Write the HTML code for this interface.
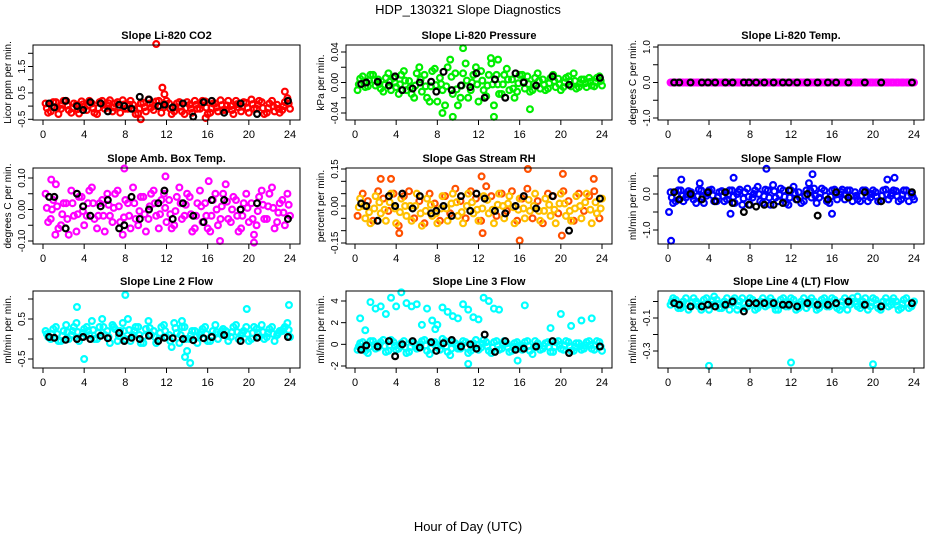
<!DOCTYPE html>
<html><head><meta charset="utf-8"><style>
html,body{margin:0;padding:0;background:#fff;}
svg{display:block;font-family:"Liberation Sans",sans-serif;}
</style></head><body>
<svg id="chart" width="936" height="540" viewBox="0 0 936 540">
<text x="468" y="14" text-anchor="middle" font-size="13">HDP_130321  Slope Diagnostics</text>
<text x="468" y="531" text-anchor="middle" font-size="13">Hour of Day (UTC)</text>
</svg>
<script>
const hoursA=[0.25,0.75,1.25,1.75,2.25,2.75,3.25,3.75,4.25,4.75,5.25,5.75,6.25,6.75,7.25,7.75,8.25,8.75,9.25,9.75,10.25,10.75,11.25,11.75,12.25,12.75,13.25,13.75,14.25,14.75,15.25,15.75,16.25,16.75,17.25,17.75,18.25,18.75,19.25,19.75,20.25,20.75,21.25,21.75,22.25,22.75,23.25,23.75];
const hoursB=[0.6,1.1,2.2,3.3,3.9,4.6,5.6,6.3,7.4,7.9,8.6,9.4,10.3,11.2,11.8,12.6,13.6,14.6,15.6,16.4,17.6,19.2,20.8,23.8];

const co2A=[0.1,-0.2,0.15,-0.1,0.2,-0.25,0.05,0.18,-0.15,0.1,-0.3,0.2,0.0,-0.2,0.15,0.22,-0.1,0.05,-0.28,0.12,0.25,-0.15,0.2,-0.05,0.1,-0.2,0.15,-0.3,0.05,0.2,-0.1,0.18,-0.25,0.1,0.22,-0.15,0.0,0.2,-0.2,0.12,0.25,-0.1,0.15,-0.25,0.2,0.05,-0.15,0.3];
const co2B=[-0.25,0.15,-0.3,0.2,-0.15,0.1,-0.28,-0.05,0.2,-0.25,0.15,-0.1,0.22,0.1,-0.25,-0.1,0.2,-0.3,0.1,-0.2,-0.05,0.18,-0.25,0.2,-0.3,0.1,-0.2,0.15,-0.25,-0.1,0.2,-0.3,0.1,-0.2,-0.15,0.2,-0.3,-0.05,0.15,-0.25,-0.1,0.2,-0.3,0.1,-0.2,-0.25,0.15,-0.1];
const co2K=[0.1,-0.05,0.2,0.0,-0.15,0.15,0.1,-0.2,0.05,0.0,-0.1,0.35,0.25,0.0,0.05,-0.05,0.1,-0.4,0.15,0.2,-0.25,0.1,-0.3,0.2];
const co2OX=[11,11.6,11.8,15.8,23.5,9.5];
const co2OY=[2.35,0.7,0.45,-0.45,0.55,-0.5];

const presA=[-0.01,0.008,-0.005,0.01,0.004,-0.012,0.012,0.006,-0.015,0.015,0.002,-0.02,0.02,0.01,-0.025,0.018,0.006,-0.03,0.03,0.012,-0.02,0.025,-0.01,0.02,0.015,-0.018,0.025,0.01,-0.015,0.018,0.004,-0.012,0.01,0.008,-0.01,0.012,0.004,-0.008,0.01,0.005,-0.006,0.008,0.012,-0.006,0.004,0.006,-0.005,0.008];
const presB=[0.005,-0.006,0.01,-0.004,-0.008,0.006,-0.01,-0.006,0.01,-0.01,-0.015,0.012,-0.012,-0.02,0.015,-0.025,-0.01,0.02,-0.015,-0.03,0.012,-0.02,0.01,-0.025,-0.01,0.01,-0.03,-0.015,0.01,-0.01,-0.02,0.01,-0.008,-0.012,0.006,-0.008,-0.01,0.006,-0.006,-0.01,0.006,-0.005,-0.008,0.004,-0.006,-0.004,0.006,-0.004];
const presK=[-0.002,0.0,0.001,-0.004,0.008,-0.01,-0.008,0.0,0.001,-0.012,0.014,-0.01,-0.004,-0.006,0.012,-0.02,0.004,-0.02,0.012,0.0,-0.004,0.008,-0.003,0.006];
const presOX=[10.5,9.5,13.2,13.5,8.5,13.9,17];
const presOY=[0.045,-0.045,0.032,-0.045,-0.04,0.03,-0.035];

const tempA=[0,0,0,0,0,0,0,0,0,0,0,0,0,0,0,0,0,0,0,0,0,0,0,0,0,0,0,0,0,0,0,0,0,0,0,0,0,0,0,0,0,0,0,0,0,0,0,0];
const tempK=[0,0,0,0,0,0,0,0,0,0,0,0,0,0,0,0,0,0,0,0,0,0,0,0,0,0,0,0];

const ambA=[0.05,-0.03,0.08,-0.05,0.02,0.06,-0.07,0.04,-0.02,0.07,-0.06,0.03,0.05,-0.04,0.06,-0.08,0.02,0.07,-0.05,0.04,-0.03,0.06,-0.06,0.05,0.03,-0.05,0.07,-0.02,0.04,-0.06,0.06,0.02,-0.07,0.05,-0.03,0.08,-0.04,0.03,-0.06,0.05,0.02,-0.05,0.06,-0.03,0.07,-0.04,0.03,0.05];
const ambB=[-0.04,0.03,-0.06,0.02,-0.08,-0.02,0.04,-0.05,0.06,-0.03,0.02,-0.07,-0.02,0.05,-0.04,0.03,-0.06,-0.03,0.04,-0.07,0.05,-0.02,0.03,-0.04,-0.06,0.04,-0.03,0.05,-0.07,0.02,-0.04,-0.06,0.03,-0.05,0.05,-0.03,0.04,-0.07,0.02,-0.04,-0.08,0.04,-0.03,0.05,-0.06,0.02,-0.05,-0.02];
const ambK=[0.04,0.04,-0.06,0.05,0.01,-0.02,0.01,0.03,-0.06,-0.05,0.04,-0.03,0.0,0.02,0.06,-0.03,0.02,-0.02,-0.04,0.03,0.03,0.0,0.02,-0.03];
const ambOX=[0.8,7.9,11.9,20.5,17.2,1.2,16.1];
const ambOY=[0.095,0.13,0.105,-0.105,-0.1,-0.08,0.09];

const rhA=[-0.04,0.05,0.02,-0.06,0.06,0.03,-0.02,0.05,-0.08,0.04,0.06,-0.05,0.02,-0.07,0.05,0.01,-0.06,0.04,-0.03,0.07,0.02,-0.05,0.06,0.03,-0.06,0.08,0.04,-0.04,0.05,-0.02,0.06,-0.06,0.03,0.07,-0.05,0.02,-0.07,0.05,0.04,-0.03,0.06,0.02,-0.06,0.05,-0.02,0.04,0.06,-0.05];
const rhB=[0.03,-0.05,-0.07,0.04,-0.03,-0.06,0.05,-0.07,0.03,-0.04,-0.06,0.05,-0.08,0.03,-0.04,-0.07,0.04,-0.06,0.05,-0.04,-0.07,0.05,-0.03,-0.06,0.04,-0.03,-0.07,0.05,-0.05,0.04,-0.07,0.03,-0.05,-0.02,0.05,-0.06,0.03,-0.04,-0.07,0.05,-0.04,-0.06,0.04,-0.05,0.05,-0.07,-0.03,0.03];
const rhK=[0.01,0.0,-0.06,0.04,0.0,0.05,-0.01,0.04,-0.03,-0.02,0.0,-0.04,0.04,-0.02,0.05,0.03,-0.02,-0.03,0.0,0.04,-0.01,0.04,-0.1,0.03];
const rhOX=[2.5,3.5,12.3,16.8,20.2,4.3,12.4,16,20.1,23.2];
const rhOY=[0.11,0.11,0.12,0.15,0.13,-0.11,-0.11,-0.14,-0.12,0.11];

const flowA=[0.05,-0.2,0.1,-0.1,0.05,-0.25,0.1,-0.05,0.12,-0.2,0.08,-0.15,0.1,0.0,-0.3,0.15,-0.1,0.2,-0.25,0.1,0.25,-0.2,0.1,-0.3,0.2,0.05,-0.2,0.3,0.15,-0.1,0.1,-0.25,0.12,0.0,-0.15,0.1,0.05,-0.2,0.1,-0.1,0.05,-0.2,0.12,-0.05,0.08,-0.15,0.1,0.0];
const flowB=[-0.25,0.1,-0.2,0.08,-0.15,0.12,-0.25,0.1,-0.2,0.05,-0.2,0.1,-0.25,0.12,0.05,-0.3,0.1,-0.2,0.12,-0.3,-0.1,0.15,-0.25,0.1,-0.15,-0.25,0.1,-0.1,-0.25,0.15,-0.2,0.1,-0.15,0.12,0.1,-0.2,-0.15,0.1,-0.2,0.1,-0.2,0.1,-0.15,0.1,-0.2,0.1,-0.2,-0.15];
const flowK=[0.05,-0.15,0.0,-0.15,0.05,-0.2,0.05,-0.25,-0.5,-0.3,-0.35,-0.3,-0.3,-0.25,0.1,-0.15,0.0,-0.6,-0.15,0.05,-0.1,0.05,-0.2,0.05];
const flowOX=[0.3,0.1,1.3,6.4,9.6,14.1,16,22.1,21.4,6.1,3.1];
const flowOY=[-1.3,-0.5,0.4,0.45,0.7,0.55,-0.55,0.45,0.4,-0.55,0.3];

const l2A=[0.2,0.0,0.3,-0.05,0.35,0.1,0.4,0.05,0.3,0.45,0.0,0.5,0.2,0.35,-0.05,0.4,0.5,0.1,0.3,-0.1,0.45,0.2,0.0,0.35,0.1,0.4,-0.1,0.3,0.0,0.2,0.1,0.3,-0.05,0.35,0.15,0.2,0.05,0.35,0.1,0.3,0.0,0.25,0.35,0.05,0.3,0.1,0.2,0.4];
const l2B=[0.05,0.25,-0.05,0.2,0.0,0.3,-0.05,0.25,0.1,0.0,0.3,0.1,-0.1,0.25,0.2,0.0,-0.05,0.3,-0.1,0.25,0.1,-0.1,0.3,0.05,-0.2,0.15,0.3,-0.3,0.2,-0.1,0.25,-0.05,0.2,0.0,0.25,-0.05,0.3,0.0,0.2,-0.05,0.3,0.05,0.0,0.25,-0.05,0.2,0.3,0.05];
const l2K=[0.05,0.03,-0.02,0.0,0.05,0.0,0.08,0.02,0.15,-0.05,0.03,0.0,0.08,-0.05,0.03,0.02,0.0,-0.03,0.02,0.05,0.1,-0.05,0.03,0.05];
const l2OX=[8,4,14.3,13.8,19.8,23.9,3.3,13.5];
const l2OY=[1.1,-0.5,-0.6,-0.45,0.75,0.85,0.8,0.45];

const l3A=[-0.5,0.2,-0.8,0.3,-0.3,0.4,-0.6,0.2,-0.4,0.3,-0.7,0.1,-0.3,0.4,-0.9,0.2,-0.5,0.3,-1.0,0.1,-0.4,0.2,-0.6,0.4,-0.3,0.2,-0.8,0.3,-0.4,0.1,-0.6,0.2,-0.5,0.3,-0.9,0.1,-0.4,0.2,-0.7,0.3,-0.5,0.2,-0.6,0.1,-0.4,0.3,-0.5,0.2];
const l3B=[0.1,-0.6,0.3,-0.4,0.2,-0.7,0.4,-0.5,0.1,-0.8,0.2,-0.4,0.3,-0.6,0.1,-0.3,0.5,-0.7,0.2,-0.4,0.3,-0.8,0.1,-0.5,0.4,-0.6,0.2,-0.5,0.3,-0.7,0.1,-0.4,0.2,-0.6,0.3,-0.5,0.1,-0.7,0.2,-0.4,0.3,-0.6,0.1,-0.5,0.2,-0.4,0.3,-0.6];
const l3K=[-0.5,-0.1,-0.2,0.3,-1.1,0.0,0.3,-0.3,0.2,-0.6,0.1,0.4,-0.2,0.0,-0.4,0.9,-0.7,0.3,-0.5,-0.4,-0.2,0.3,-0.8,-0.2];
const l3OX=[0.5,1.5,2,2.5,3,4,4.5,5,5.5,6,6.5,7,7.5,8,8.5,9,9.5,10,10.5,11,11.5,12,12.5,13,13.5,14,16.5,19,20,21,22,23,1,3.5,7.8,11,15.8];
const l3OY=[2.4,3.9,3.3,3.5,2.8,3.5,4.8,3.8,3.5,3.7,1.8,3.3,2.2,1.8,3.4,3.0,2.6,2.4,3.7,3.2,2.5,2.3,4.3,4.0,3.3,3.2,3.6,1.5,2.8,1.7,2.2,2.4,1.3,4.3,1.4,-1.8,-1.5];

const l4A=[-0.02,0.01,-0.04,0.02,-0.03,0.0,-0.05,0.02,-0.02,0.01,-0.04,0.02,-0.01,-0.05,0.02,-0.03,0.01,-0.04,0.02,-0.02,0.0,-0.05,0.02,-0.03,0.01,-0.04,0.02,-0.02,0.0,-0.04,0.02,-0.03,0.01,-0.05,0.02,-0.02,0.0,-0.04,0.02,-0.03,0.01,-0.05,0.02,-0.02,0.0,-0.04,0.02,-0.03];
const l4B=[0.02,-0.04,0.0,-0.05,0.02,-0.03,0.01,-0.05,0.03,-0.04,0.0,-0.05,0.02,0.0,-0.04,0.02,-0.05,0.0,-0.03,0.02,-0.05,0.01,-0.03,0.02,-0.05,0.0,-0.04,0.02,-0.05,0.01,-0.03,0.02,-0.04,0.0,-0.05,0.02,-0.03,0.0,-0.05,0.02,-0.04,0.0,-0.03,0.02,-0.05,0.01,-0.04,0.0];
const l4K=[-0.01,-0.02,-0.03,-0.03,-0.02,-0.03,-0.02,0.0,-0.06,-0.01,-0.01,-0.01,-0.01,-0.02,-0.02,-0.03,-0.01,-0.02,-0.02,-0.01,0.0,-0.02,-0.03,-0.01];
const l4OX=[4,12,20,18.5];
const l4OY=[-0.39,-0.37,-0.38,0.03];

const xTicks=[0,4,8,12,16,20,24];

const panels=[
 {name:'co2',title:'Slope Li-820 CO2',ylab:'Licor ppm per min.',col:0,row:0,a:co2A,b:co2B,k:co2K,ox:co2OX,oy:co2OY,cA:'#ff0000',cB:'#ff0000',v1:-0.5,p1:119.3,v2:2.0,p2:53.3,ticks:[-0.5,0,0.5,1,1.5,2],labels:['-0.5','0.5','1.5'],labelVals:[-0.5,0.5,1.5]},
 {name:'pressure',title:'Slope Li-820 Pressure',ylab:'kPa per min.',col:1,row:0,a:presA,b:presB,k:presK,ox:presOX,oy:presOY,cA:'#00ee00',cB:'#00ee00',v1:-0.04,p1:113,v2:0.04,p2:52,ticks:[-0.04,-0.02,0,0.02,0.04],labels:['-0.04','0.00','0.04'],labelVals:[-0.04,0,0.04]},
 {name:'temp',title:'Slope Li-820 Temp.',ylab:'degrees C per min.',col:2,row:0,a:tempA,b:tempA,k:tempK,ox:[],oy:[],cA:'#ff00ff',cB:'#ff00ff',v1:-1,p1:118,v2:1,p2:47,ticks:[-1,-0.5,0,0.5,1],labels:['-1.0','0.0','1.0'],labelVals:[-1,0,1]},
 {name:'amb-box-temp',title:'Slope Amb. Box Temp.',ylab:'degrees C per min.',col:0,row:1,a:ambA,b:ambB,k:ambK,ox:ambOX,oy:ambOY,cA:'#ff00ff',cB:'#ff00ff',v1:-0.1,p1:241,v2:0.1,p2:178,ticks:[-0.1,-0.05,0,0.05,0.1],labels:['-0.10','0.00','0.10'],labelVals:[-0.1,0,0.1]},
 {name:'gas-stream-rh',title:'Slope Gas Stream RH',ylab:'percent per min.',col:1,row:1,a:rhA,b:rhB,k:rhK,ox:rhOX,oy:rhOY,cA:'#ff5000',cB:'#ffc000',v1:-0.15,p1:243,v2:0.15,p2:169,ticks:[-0.15,-0.1,-0.05,0,0.05,0.1,0.15],labels:['-0.15','0.00','0.15'],labelVals:[-0.15,0,0.15]},
 {name:'sample-flow',title:'Slope Sample Flow',ylab:'ml/min per min.',col:2,row:1,a:flowA,b:flowB,k:flowK,ox:flowOX,oy:flowOY,cA:'#0000ff',cB:'#0000ff',v1:-1,p1:230,v2:0,p2:194,ticks:[-1,-0.5,0,0.5],labels:['-1.0','0.0'],labelVals:[-1,0]},
 {name:'line2-flow',title:'Slope Line 2 Flow',ylab:'ml/min per min.',col:0,row:2,a:l2A,b:l2B,k:l2K,ox:l2OX,oy:l2OY,cA:'#00ffff',cB:'#00ffff',v1:-0.5,p1:359,v2:0.5,p2:319,ticks:[-0.5,0,0.5,1],labels:['-0.5','0.5'],labelVals:[-0.5,0.5]},
 {name:'line3-flow',title:'Slope Line 3 Flow',ylab:'ml/min per min.',col:1,row:2,a:l3A,b:l3B,k:l3K,ox:l3OX,oy:l3OY,cA:'#00ffff',cB:'#00ffff',v1:-2,p1:366,v2:4,p2:301,ticks:[-2,0,2,4],labels:['-2','0','2','4'],labelVals:[-2,0,2,4]},
 {name:'line4-flow',title:'Slope Line 4 (LT) Flow',ylab:'ml/min per min.',col:2,row:2,a:l4A,b:l4B,k:l4K,ox:l4OX,oy:l4OY,cA:'#00ffff',cB:'#00ffff',v1:-0.3,p1:351,v2:-0.1,p2:318,ticks:[-0.3,-0.2,-0.1,0],labels:['-0.3','-0.1'],labelVals:[-0.3,-0.1]}
];
const colBox=[[33,300,43,290],[346,612,355,602],[658,924,668,914]];
const rowBox=[[45,120],[168,244],[291,368]];
const NS='http://www.w3.org/2000/svg';
const svg=document.getElementById('chart');
function mk(tag,attrs,parent){const e=document.createElementNS(NS,tag);for(const k in attrs)e.setAttribute(k,attrs[k]);(parent||svg).appendChild(e);return e;}

panels.forEach(p=>{
  const [L,R,x0,x24]=colBox[p.col];const [T,B]=rowBox[p.row];
  const g=mk('g',{});
  
  
  const xs=h=>x0+(x24-x0)*h/24;
  const ys=v=>p.p1+(v-p.v1)*(p.p2-p.p1)/(p.v2-p.v1);
  const t=mk('text',{x:(L+R)/2,y:T-6,'text-anchor':'middle','font-size':11,'font-weight':'bold'},g);
  t.textContent=p.title;
  
  
  const yl=mk('text',{x:0,y:0,'text-anchor':'middle','font-size':10,transform:`translate(${L-22},${(T+B)/2}) rotate(-90)`},g);
  yl.textContent=p.ylab;
  
  
  const pts=mk('g',{fill:'none','stroke-width':2.2},g);
  
  
  const dot=(x,y,c,nm)=>{const cy=ys(y);if(cy<T-2||cy>B+2)return;const c1=mk('circle',{cx:xs(x),cy:cy,r:2.9,stroke:c},pts);
    
    };
  hoursA.forEach((h,i)=>dot(h,p.a[i],p.cA,'point'));
  hoursA.forEach((h,i)=>dot(h+0.25,p.b[i],p.cB,'point'));
  hoursA.forEach((h,i)=>dot(h+0.12,(p.a[i]+p.b[i])/2,p.cB,'point'));
  p.ox.forEach((h,i)=>dot(h,p.oy[i],p.cA,'outlier-point'));
  hoursB.forEach((h,i)=>{if(i<p.k.length)dot(h,p.k[i],'#000','reference-point');});
  const box=mk('rect',{x:L,y:T,width:R-L,height:B-T,fill:'none',stroke:'#000','stroke-width':1},g);
  
  
  const xa=mk('g',{},g);
  
  
  xTicks.forEach(v=>{const x=xs(v);mk('line',{x1:x,x2:x,y1:B,y2:B+5,stroke:'#000'},xa);
    const tl=mk('text',{x:x,y:B+18,'text-anchor':'middle','font-size':11},xa);tl.textContent=v;
    
    });
  const ya=mk('g',{},g);
  
  
  p.ticks.forEach(v=>{const y=ys(v);if(y<T-1||y>B+1)return;mk('line',{x1:L-5,x2:L,y1:y,y2:y,stroke:'#000'},ya);});
  p.labelVals.forEach((v,i)=>{const y=ys(v);const tl=mk('text',{x:0,y:0,'text-anchor':'middle','font-size':10,transform:`translate(${L-8},${y}) rotate(-90)`},ya);tl.textContent=p.labels[i];
    
    });
});
</script>
</body></html>
